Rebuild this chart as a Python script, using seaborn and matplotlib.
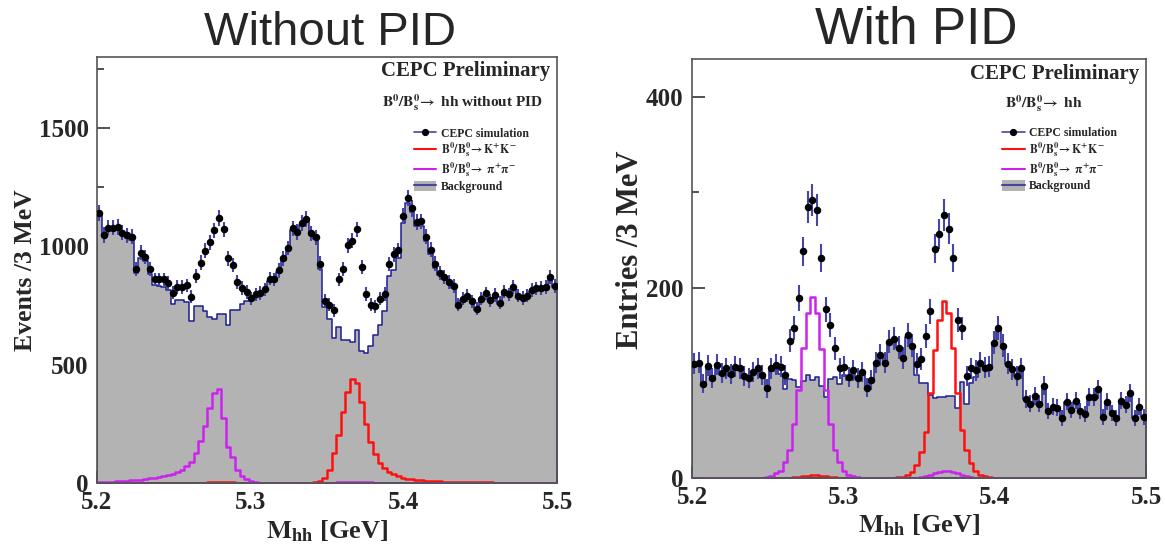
import numpy as np
import pandas as pd
import matplotlib
matplotlib.use('Agg')
import matplotlib.pyplot as plt
import seaborn as sns
from matplotlib.lines import Line2D
from matplotlib.patches import Patch
from matplotlib.legend_handler import HandlerTuple
from matplotlib.ticker import MultipleLocator

# ========== data: 100 bins of 3 MeV from 5.2 to 5.5 GeV ==========
edges = np.round(np.linspace(5.2, 5.5, 101), 4)
centers = 0.5 * (edges[:-1] + edges[1:])

# --- Without PID ---
nopid_data = [1140, 1048, 1079, 1079, 1082, 1058, 1047, 1041, 905, 973,
              955, 905, 860, 860, 860, 846, 804, 829, 829, 835,
              787, 873, 931, 982, 1018, 1068, 1120, 1072, 949, 921,
              849, 825, 808, 780, 797, 802, 818, 864, 860, 898,
              949, 993, 1076, 1061, 1100, 1117, 1055, 1038, 927, 771,
              754, 730, 860, 905, 1004, 1023, 1072, 914, 799, 754,
              747, 778, 799, 925, 967, 984, 1128, 1203, 1160, 1103,
              1105, 1041, 986, 927, 889, 870, 849, 832, 754, 778,
              792, 768, 737, 778, 801, 772, 794, 761, 809, 797,
              828, 792, 782, 792, 815, 822, 823, 829, 872, 832]
nopid_bkg = [1132, 1042, 1072, 1072, 1074, 1048, 1036, 1028, 889, 950,
             940, 885, 835, 832, 830, 815, 758, 772, 772, 764,
             686, 750, 750, 726, 702, 694, 716, 715, 669, 729,
             733, 758, 768, 768, 790, 795, 812, 855, 852, 890,
             942, 986, 1068, 1055, 1092, 1110, 1048, 1030, 905, 742,
             691, 614, 658, 603, 605, 595, 648, 556, 549, 578,
             624, 669, 726, 874, 902, 949, 1100, 1181, 1143, 1086,
             1088, 1023, 966, 910, 877, 860, 839, 825, 750, 772,
             786, 762, 733, 772, 795, 768, 790, 757, 805, 793,
             823, 789, 779, 789, 812, 819, 820, 826, 868, 829]
nopid_kk = [0, 0, 0, 0, 0, 0, 0, 0, 0, 0,
            0, 0, 0, 0, 0, 0, 0, 0, 0, 0,
            0, 0, 1, 2, 3, 4, 5, 5, 4, 3,
            2, 0, 0, 0, 0, 0, 0, 0, 0, 0,
            0, 0, 0, 0, 0, 1, 2, 4, 8, 20,
            56, 127, 203, 300, 386, 440, 423, 341, 251, 174,
            123, 84, 63, 46, 36, 29, 21, 17, 16, 13,
            11, 10, 9, 8, 7, 6, 6, 5, 5, 4,
            4, 4, 3, 3, 3, 3, 2, 2, 2, 2,
            2, 2, 2, 1, 1, 1, 1, 1, 1, 1]
nopid_pipi = [4, 4, 5, 6, 7, 9, 10, 11, 13, 14,
              17, 20, 23, 26, 29, 33, 40, 47, 57, 71,
              90, 126, 176, 240, 319, 380, 397, 276, 154, 111,
              54, 29, 16, 7, 3, 1, 0, 0, 0, 0,
              0, 0, 0, 0, 0, 0, 0, 0, 0, 0,
              1, 2, 3, 4, 5, 6, 6, 5, 4, 3,
              2, 1, 1, 0, 0, 0, 0, 0, 0, 0,
              0, 0, 0, 0, 0, 0, 0, 0, 0, 0,
              0, 0, 0, 0, 0, 0, 0, 0, 0, 0,
              0, 0, 0, 0, 0, 0, 0, 0, 0, 0]

# --- With PID ---
pid_data = [120, 121, 99, 118, 105, 119, 110, 115, 109, 117,
            115, 107, 105, 111, 115, 108, 94, 115, 119, 117,
            108, 144, 158, 189, 238, 285, 292, 281, 231, 177,
            161, 136, 115, 117, 106, 113, 105, 111, 95, 103,
            121, 129, 121, 143, 146, 137, 126, 150, 139, 120,
            125, 149, 175, 241, 256, 276, 262, 231, 166, 157,
            107, 115, 113, 121, 116, 117, 142, 158, 139, 120,
            114, 107, 115, 83, 78, 86, 78, 97, 70, 75,
            74, 63, 80, 71, 81, 70, 67, 85, 85, 93,
            64, 80, 68, 63, 81, 77, 89, 63, 75, 64]
pid_bkg = [118, 119, 97, 116, 103, 117, 108, 113, 107, 115,
           113, 105, 103, 109, 113, 106, 92, 112, 114, 109,
           93, 104, 103, 96, 102, 108, 103, 106, 97, 85,
           104, 106, 99, 108, 103, 111, 104, 110, 95, 103,
           120, 129, 120, 142, 146, 136, 125, 148, 137, 108,
           100, 100, 87, 84, 85, 85, 86, 86, 73, 101,
           78, 100, 106, 118, 114, 116, 141, 157, 138, 120,
           113, 107, 115, 83, 78, 86, 78, 96, 70, 75,
           73, 64, 80, 71, 80, 70, 67, 85, 85, 92,
           64, 80, 68, 63, 81, 77, 88, 63, 75, 64]
pid_kk = [0, 0, 0, 0, 0, 0, 0, 0, 0, 0,
          0, 0, 0, 0, 0, 0, 0, 0, 0, 0,
          0, 0.5, 1, 1.5, 2, 2.5, 3, 3, 2.5, 2,
          1.5, 1, 0, 0, 0, 0, 0, 0, 0, 0,
          0, 0, 0, 0, 0, 0.7, 1.4, 2.8, 6.3, 14,
          27, 48, 89, 134, 166, 186, 173, 136, 89, 50,
          29, 16, 7, 3.5, 1.7, 0.8, 0.3, 0.3, 0.3, 0.3,
          0.3, 0.3, 0.3, 0.3, 0.3, 0.3, 0.3, 0.3, 0.3, 0.3,
          0.3, 0.3, 0.3, 0.3, 0.3, 0.3, 0.3, 0.3, 0.3, 0.3,
          0.3, 0.3, 0.3, 0.3, 0.3, 0.3, 0.3, 0.3, 0.3, 0.3]
pid_pipi = [0.3, 0.3, 0.3, 0.3, 0.3, 0.3, 0.3, 0.3, 0.3, 0.3,
            0.3, 0.3, 0.3, 0.3, 0.3, 0.3, 1.4, 2.4, 5, 7.7,
            16.4, 29.7, 57, 92.5, 136, 173.5, 190, 173, 135, 92.5,
            57, 29, 16.4, 7.7, 3.5, 1.7, 0.8, 0.3, 0.3, 0.3,
            0.3, 0.3, 0.3, 0.3, 0.3, 0.3, 0.3, 0.3, 0.3, 0.3,
            1, 2, 3, 5, 6, 7, 7, 6, 5, 3,
            2, 1, 0, 0, 0, 0, 0, 0, 0, 0,
            0, 0, 0, 0, 0, 0, 0, 0, 0, 0,
            0, 0, 0, 0, 0, 0, 0, 0, 0, 0,
            0, 0, 0, 0, 0, 0, 0, 0, 0, 0]

# ========== style ==========
sns.set_style('ticks')
plt.rcParams['font.family'] = ['Liberation Serif', 'DejaVu Serif']
plt.rcParams['font.weight'] = 'bold'
plt.rcParams['mathtext.fontset'] = 'stix'

BKG_FACE = '#b3b3b3'
BKG_EDGE = '#1c1c96'
RED = '#ff1010'
MAG = '#cc22ee'
ERR = '#4646a8'

fig = plt.figure(figsize=(11.65, 5.45), dpi=100)
ax1 = fig.add_axes([97 / 1165, 62 / 545, 460 / 1165, 426 / 545])
ax2 = fig.add_axes([692 / 1165, 67 / 545, 454 / 1165, 419 / 545])


def draw_panel(ax, data, bkg, kk, pipi, ylim, ymaj, ymin, ylabel, ylabsize,
               decay, dec_xy, cepc_y, leg_xy):
    df = pd.DataFrame({'m': centers, 'bkg': bkg, 'kk': kk, 'pipi': pipi})
    bins = list(edges)
    sns.histplot(data=df, x='m', weights='bkg', bins=bins, element='step', fill=True,
                 facecolor=BKG_FACE, edgecolor=BKG_EDGE, linewidth=1.1, alpha=1, ax=ax)
    sns.histplot(data=df, x='m', weights='kk', bins=bins, element='step', fill=False,
                 color=RED, linewidth=1.8, alpha=1, ax=ax)
    sns.histplot(data=df, x='m', weights='pipi', bins=bins, element='step', fill=False,
                 color=MAG, linewidth=1.8, alpha=1, ax=ax)
    d = np.array(data, dtype=float)
    ax.errorbar(centers, d, yerr=np.sqrt(d), fmt='o', color='k', ms=4.4,
                ecolor=ERR, elinewidth=1.5, capsize=0, zorder=5)

    ax.set_xlim(5.2, 5.5)
    ax.set_ylim(*ylim)
    ax.xaxis.set_major_locator(MultipleLocator(0.1))
    ax.xaxis.set_minor_locator(MultipleLocator(0.05))
    ax.yaxis.set_major_locator(MultipleLocator(ymaj))
    ax.yaxis.set_minor_locator(MultipleLocator(ymin))
    ax.tick_params(which='both', direction='in', top=False, right=False,
                   labelsize=18, pad=6, color='#222222')
    ax.tick_params(which='major', length=9, width=1.1)
    ax.tick_params(which='minor', length=5, width=1.1)
    for lab in ax.get_xticklabels() + ax.get_yticklabels():
        lab.set_fontweight('bold')
    for sp in ax.spines.values():
        sp.set_visible(True)
        sp.set_color('#555555')
        sp.set_linewidth(1.2)

    ax.set_xlabel(r'$\mathbf{M_{hh}}$ [GeV]', fontsize=19, fontweight='bold')
    ax.set_ylabel(ylabel, fontsize=ylabsize, fontweight='bold')

    ax.text(0.985, cepc_y, 'CEPC Preliminary', transform=ax.transAxes,
            ha='right', va='top', fontsize=15, fontweight='bold')
    ax.text(dec_xy[0], dec_xy[1], decay, transform=ax.transAxes,
            ha='left', va='top', fontsize=11, fontweight='bold')

    handles = [Line2D([0], [0], color=ERR, lw=1.2, marker='o', mfc='k', mec='k', ms=4.2),
               Line2D([0], [0], color=RED, lw=1.5),
               Line2D([0], [0], color=MAG, lw=1.5),
               (Patch(facecolor=BKG_FACE, edgecolor='none'),
                Line2D([0], [0], color='#4646a0', lw=1.5))]
    labels = ['CEPC simulation',
              r'$\mathbf{B^0/B^0_s\!\rightarrow K^{\!+}\!K^{\!-}}$',
              r'$\mathbf{B^0/B^0_s\!\rightarrow\ \pi^{\!+}\!\pi^{\!-}}$',
              'Background']
    ax.legend(handles, labels, handler_map={tuple: HandlerTuple(ndivide=1, pad=0)},
              loc='upper left', bbox_to_anchor=leg_xy, frameon=False,
              prop={'family': 'Liberation Serif', 'weight': 'bold', 'size': 8.5},
              handlelength=1.9, handleheight=1.0, handletextpad=0.35,
              labelspacing=0.1, borderaxespad=0, borderpad=0)


draw_panel(ax1, nopid_data, nopid_bkg, nopid_kk, nopid_pipi, (0, 1800), 500, 250,
           'Events /3 MeV', 18.5, r'$\mathbf{B^0/B^0_s\!\rightarrow}$ hh without PID',
           (0.62, 0.918), 0.99, (0.689, 0.835))
draw_panel(ax2, pid_data, pid_bkg, pid_kk, pid_pipi, (0, 440), 200, 100,
           'Entries /3 MeV', 22, r'$\mathbf{B^0/B^0_s\!\rightarrow}$ hh',
           (0.689, 0.918), 0.988, (0.683, 0.838))
ax1.xaxis.set_label_coords(0.5, -0.082)
ax2.xaxis.set_label_coords(0.5, -0.082)
ax1.yaxis.set_label_coords(-0.13, 0.5)
ax2.yaxis.set_label_coords(-0.104, 0.544)

fig.text(330 / 1165, 1 - 33 / 545, 'Without PID', ha='center', va='center',
         fontsize=34, family='Liberation Sans', fontweight='normal')
fig.text(916 / 1165, 1 - 30 / 545, 'With PID', ha='center', va='center',
         fontsize=37, family='Liberation Sans', fontweight='normal')

fig.savefig('out.png', dpi=100)
